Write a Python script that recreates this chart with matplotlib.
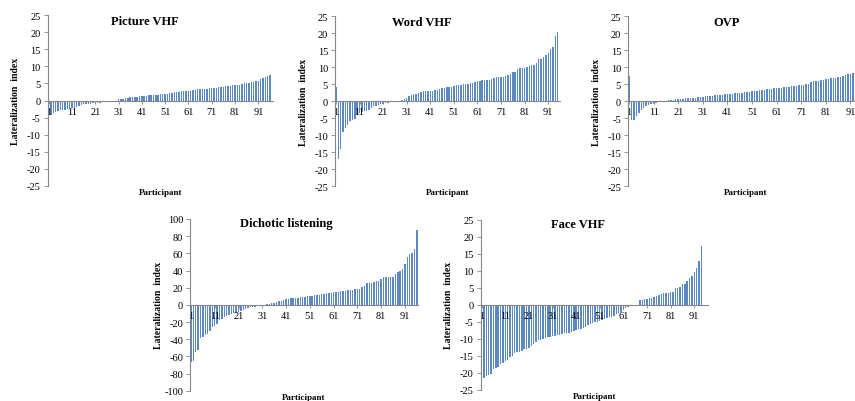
import numpy as np
import matplotlib.pyplot as plt

# sorted lateralization indices per task
picture_vhf = [-4.5, -4.3, -3.8, -3.5, -3.0, -2.8, -2.8, -2.7, -2.5, -2.5,
               -2.3, -2.2, -2.0, -1.5, -1.2, -1.0, -1.0, -0.9, -0.9, -0.8,
               -0.8, -0.7, -0.6, -0.5, -0.3, -0.2, -0.1, 0.0, 0.0, 0.0,
               0.3, 0.4, 0.5, 0.6, 0.8, 0.9, 1.0, 1.0, 1.1, 1.2,
               1.2, 1.3, 1.4, 1.5, 1.5, 1.6, 1.7, 1.7, 1.8, 1.8,
               1.9, 2.0, 2.2, 2.3, 2.4, 2.5, 2.6, 2.7, 2.7, 2.8,
               2.8, 2.9, 3.0, 3.2, 3.3, 3.3, 3.4, 3.5, 3.5, 3.6,
               3.6, 3.7, 3.8, 3.9, 4.0, 4.0, 4.1, 4.2, 4.3, 4.4,
               4.4, 4.5, 4.6, 4.8, 5.0, 5.0, 5.1, 5.3, 5.5, 5.6,
               5.8, 6.2, 6.6, 6.8, 7.2, 7.6]

word_vhf = [4.0, -17.0, -14.0, -9.0, -8.0, -7.0, -6.0, -5.5, -5.4, -4.0,
            -3.5, -3.2, -3.0, -2.8, -2.5, -2.0, -1.6, -1.4, -1.2, -1.0,
            -0.9, -0.7, -0.6, -0.4, -0.3, -0.2, -0.1, 0.0, 0.2, 0.5,
            1.0, 1.5, 1.8, 2.0, 2.2, 2.5, 2.7, 2.8, 2.8, 2.9,
            3.0, 3.0, 3.1, 3.2, 3.5, 3.7, 3.9, 4.0, 4.2, 4.2,
            4.3, 4.6, 4.7, 4.8, 4.9, 5.0, 5.1, 5.2, 5.3, 5.5,
            5.8, 6.0, 6.2, 6.2, 6.3, 6.3, 6.5, 6.7, 7.0, 7.1,
            7.2, 7.2, 7.4, 7.6, 7.9, 8.4, 8.5, 9.5, 9.6, 9.7,
            9.8, 10.0, 10.4, 10.5, 10.6, 11.2, 12.3, 12.5, 13.0, 13.5,
            14.0, 15.3, 16.0, 19.0, 20.2]

ovp = [7.5, -5.5, -5.5, -4.5, -3.5, -2.5, -2.0, -1.5, -1.2, -1.0,
       -0.8, -0.6, -0.4, -0.3, -0.2, 0.1, 0.2, 0.3, 0.4, 0.5,
       0.5, 0.6, 0.7, 0.8, 0.8, 0.9, 1.0, 1.0, 1.1, 1.2,
       1.3, 1.4, 1.5, 1.6, 1.6, 1.7, 1.8, 1.8, 1.9, 2.0,
       2.0, 2.1, 2.2, 2.3, 2.4, 2.5, 2.5, 2.6, 2.7, 2.7,
       2.8, 2.9, 3.0, 3.1, 3.2, 3.3, 3.4, 3.5, 3.6, 3.7,
       3.7, 3.8, 3.9, 4.0, 4.1, 4.2, 4.3, 4.4, 4.5, 4.6,
       4.7, 4.8, 4.9, 5.0, 5.7, 5.8, 5.9, 6.0, 6.1, 6.2,
       6.4, 6.6, 6.7, 6.8, 6.9, 7.0, 7.2, 7.4, 7.6, 7.8,
       8.0, 8.1, 8.3, 8.5, 8.7, 9.0]

dichotic = [-67, -65, -55, -53, -39, -38, -35, -34, -30, -26,
            -25, -22, -18, -16, -14, -13, -12, -11, -10, -9,
            -8, -7, -6, -5, -4, -3, -2.5, -2, -1.5, -1,
            -0.5, 0, 0.5, 1, 2, 2, 3, 4, 5, 6,
            6.5, 7, 7.5, 8, 8, 8.5, 9, 9, 9.5, 10,
            10, 10.5, 11, 11, 12, 13, 13, 13.5, 14, 14,
            15, 15, 15.5, 16, 16, 16.5, 17, 17, 17.5, 18,
            18, 19, 21, 22, 25, 26, 26, 27, 28, 28,
            30, 32, 32, 32, 32, 33, 36, 38, 40, 42,
            48, 56, 59, 60, 65, 87]

face_vhf = [-22.0, -21.5, -21.0, -20.8, -20.5, -19.0, -18.5, -18.3, -17.5, -17.0,
            -16.5, -16.2, -15.5, -15.0, -14.2, -14.0, -13.8, -13.5, -13.0, -13.0,
            -12.8, -12.2, -11.5, -11.0, -10.5, -10.3, -10.0, -9.8, -9.6, -9.5,
            -9.3, -9.2, -9.0, -8.8, -8.5, -8.3, -8.2, -8.2, -8.0, -7.8,
            -7.5, -7.2, -7.0, -6.8, -6.5, -6.0, -5.8, -5.5, -5.2, -5.0,
            -4.8, -4.5, -4.3, -4.0, -3.7, -3.5, -3.2, -2.8, -2.5, -2.2,
            -1.5, -1.0, -0.8, -0.5, -0.3, -0.1, 0.0, 1.3, 1.5, 1.7,
            1.8, 1.9, 2.0, 2.2, 2.7, 3.0, 3.2, 3.4, 3.5, 3.5,
            3.6, 3.8, 5.0, 5.0, 5.1, 6.0, 6.1, 7.0, 7.8, 8.5,
            9.5, 10.8, 13.0, 17.3]

xticks = [1, 11, 21, 31, 41, 51, 61, 71, 81, 91]

plt.rcParams['font.family'] = ['Liberation Serif', 'DejaVu Serif']
plt.rcParams['axes.unicode_minus'] = False

W, H = 855, 402
fig = plt.figure(figsize=(W / 100, H / 100), dpi=100)

# (data, title, ylim, ystep, axes box in px [left, top, right, bottom], title pos in axes coords, xmax)
panels = [
    (picture_vhf, 'Picture VHF', 25, 5, [47.7, 16, 273, 187], (0.432, 0.967), 97.3),
    (word_vhf, 'Word VHF', 25, 5, [335, 17, 560, 187], (0.385, 0.967), 96.0),
    (ovp, 'OVP', 25, 5, [628, 17, 864, 187], (0.419, 0.967), 96.5),
    (dichotic, 'Dichotic listening', 100, 20, [190, 220, 418, 391.7], (0.424, 0.977), 96.5),
    (face_vhf, 'Face VHF', 25, 5, [480.7, 220.7, 708, 390.7], (0.428, 0.975), 96.8),
]

grey = '#868686'
for vals, title, lim, step, box, tpos, xmax in panels:
    l, t, r, b = box
    ax = fig.add_axes([l / W, 1 - b / H, (r - l) / W, (b - t) / H])
    x = np.arange(1, len(vals) + 1)
    ax.bar(x, vals, width=0.6, color='#5b88c2', linewidth=0)
    ax.set_xlim(0.6, xmax)
    ax.set_ylim(-lim, lim)
    ax.set_yticks(np.arange(-lim, lim + 1, step))
    ax.set_xticks(xticks)
    ax.spines['top'].set_visible(False)
    ax.spines['right'].set_visible(False)
    ax.spines['bottom'].set_position(('data', 0))
    for s in ('left', 'bottom'):
        ax.spines[s].set_color(grey)
        ax.spines[s].set_linewidth(0.8)
    ax.tick_params(axis='y', length=3, width=0.6, color=grey, labelsize=7.5, pad=2)
    ax.tick_params(axis='x', length=2.5, width=0.6, color=grey, labelsize=7.5, pad=2)
    ax.text(tpos[0], tpos[1], title, transform=ax.transAxes, ha='center',
            va='center', fontsize=9, fontweight='bold')
    ax.text(0.5, -0.035, 'Participant', transform=ax.transAxes, ha='center',
            va='center', fontsize=6.5, fontweight='bold')
    ax.text(-32 / (r - l), 0.5, 'Lateralization  index', transform=ax.transAxes,
            ha='center', va='center', rotation=90, fontsize=7, fontweight='bold')

fig.savefig('out.png', dpi=100)
